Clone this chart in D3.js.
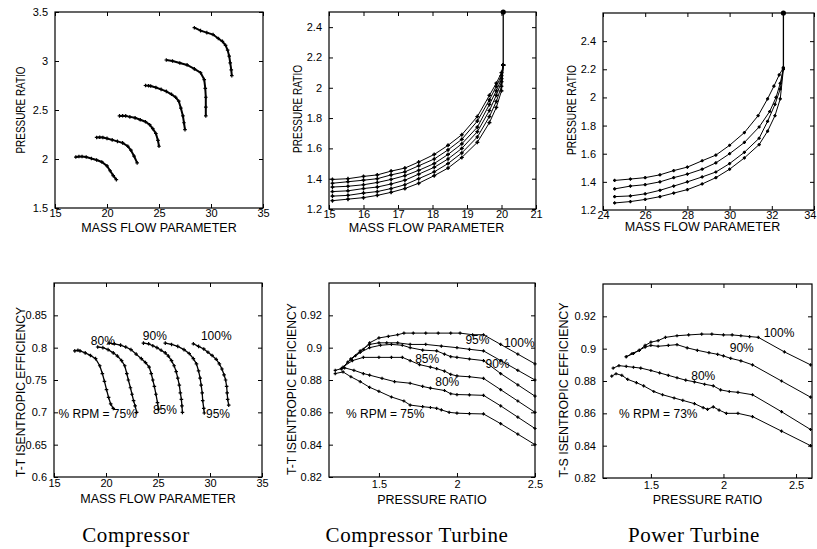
<!DOCTYPE html>
<html><head><meta charset="utf-8">
<script src="https://cdn.jsdelivr.net/npm/d3@7"></script>
<style>
body{margin:0;background:#fff}
svg{display:block;font-family:"Liberation Sans",Arial,sans-serif}
text{fill:#000}
</style>
</head><body>
<svg id="c" width="817" height="549"></svg>
<script>
// ---------------- DATA ----------------
// Compressor map: [mass flow parameter, pressure ratio]
const compMap75  = [[17.0,2.02],[17.3,2.025],[17.6,2.025],[18.0,2.02],[18.5,2.005],[19.0,1.99],[19.5,1.97],[20.0,1.93],[20.3,1.88],[20.6,1.83],[20.9,1.79]];
const compMap80  = [[19.0,2.22],[19.3,2.222],[19.6,2.22],[20.0,2.21],[20.5,2.195],[21.0,2.18],[21.5,2.165],[22.0,2.13],[22.3,2.09],[22.6,2.03],[22.9,1.96]];
const compMap85  = [[21.2,2.44],[21.5,2.442],[21.8,2.44],[22.2,2.43],[22.7,2.42],[23.2,2.40],[23.7,2.38],[24.1,2.35],[24.4,2.31],[24.7,2.26],[24.9,2.19],[25.0,2.13]];
const compMap90  = [[23.7,2.75],[24.0,2.748],[24.2,2.745],[24.7,2.73],[25.2,2.71],[25.7,2.69],[26.2,2.66],[26.6,2.63],[26.9,2.59],[27.1,2.52],[27.3,2.44],[27.4,2.37],[27.5,2.30]];
const compMap95  = [[25.7,3.01],[26.3,3.0],[27.0,2.98],[27.7,2.96],[28.4,2.92],[29.0,2.88],[29.35,2.81],[29.45,2.72],[29.5,2.63],[29.5,2.53],[29.5,2.44]];
const compMap100 = [[28.4,3.34],[29.0,3.31],[29.6,3.29],[30.2,3.27],[30.7,3.23],[31.1,3.20],[31.4,3.16],[31.6,3.11],[31.75,3.05],[31.85,2.98],[31.95,2.91],[32.0,2.85]];

// Compressor turbine map: shared mass flow, pressure ratio per speed line
const ctMassFlow = [15.1,15.55,16.0,16.4,16.8,17.2,17.6,18.05,18.45,18.85,19.3,19.65,19.85,20.0,20.05];
const ctPR1 = [1.395,1.40,1.415,1.425,1.45,1.47,1.51,1.56,1.62,1.69,1.81,1.95,2.03,2.10,2.15];
const ctPR2 = [1.37,1.38,1.39,1.40,1.425,1.445,1.485,1.53,1.59,1.66,1.78,1.92,2.01,2.08,2.15];
const ctPR3 = [1.345,1.35,1.36,1.375,1.395,1.42,1.455,1.50,1.56,1.63,1.74,1.89,1.98,2.06,2.15];
const ctPR4 = [1.315,1.32,1.335,1.345,1.365,1.39,1.43,1.475,1.53,1.60,1.71,1.85,1.95,2.04,2.15];
const ctPR5 = [1.285,1.29,1.305,1.315,1.335,1.36,1.40,1.445,1.50,1.57,1.675,1.81,1.91,2.01,2.15];
const ctPR6 = [1.255,1.265,1.275,1.29,1.31,1.335,1.37,1.42,1.47,1.54,1.64,1.77,1.87,1.98,2.15];
const ctChoke = [[20.05,2.15],[20.05,2.5]];

// Power turbine map
const ptMap1 = [[24.55,1.41],[25.3,1.42],[26.0,1.43],[26.7,1.45],[27.35,1.48],[28.0,1.505],[28.7,1.55],[29.35,1.59],[30.0,1.66],[30.7,1.75],[31.35,1.87],[31.8,1.99],[32.1,2.08],[32.35,2.16],[32.55,2.21]];
const ptMap2 = [[24.55,1.35],[25.3,1.37],[26.0,1.38],[26.7,1.40],[27.35,1.43],[28.0,1.455],[28.7,1.49],[29.35,1.535],[30.0,1.60],[30.7,1.68],[31.4,1.79],[31.9,1.90],[32.2,2.0],[32.4,2.1],[32.55,2.21]];
const ptMap3 = [[24.55,1.295],[25.3,1.30],[26.0,1.315],[26.7,1.34],[27.35,1.37],[28.0,1.40],[28.7,1.435],[29.35,1.47],[30.0,1.53],[30.7,1.61],[31.4,1.71],[31.8,1.83],[32.15,1.95],[32.4,2.06],[32.55,2.21]];
const ptMap4 = [[24.55,1.25],[25.3,1.26],[26.0,1.275],[26.7,1.295],[27.35,1.32],[28.0,1.345],[28.7,1.385],[29.35,1.43],[30.0,1.49],[30.7,1.57],[31.4,1.665],[31.8,1.76],[32.15,1.87],[32.4,1.99],[32.55,2.2]];
const ptChoke = [[32.55,2.21],[32.55,2.6]];

// Compressor efficiency: [mass flow parameter, T-T efficiency]
const compEff75  = [[17.0,0.795],[17.3,0.796],[17.5,0.795],[18.0,0.792],[18.5,0.788],[19.0,0.783],[19.4,0.772],[19.65,0.76],[19.85,0.748],[20.05,0.735],[20.25,0.723],[20.45,0.713],[20.7,0.706]];
const compEff80  = [[19.2,0.801],[19.7,0.80],[20.2,0.797],[20.7,0.792],[21.1,0.787],[21.5,0.78],[21.8,0.772],[22.0,0.76],[22.15,0.75],[22.35,0.738],[22.5,0.728],[22.65,0.718],[22.8,0.71],[22.95,0.70]];
const compEff85  = [[20.3,0.807],[20.8,0.806],[21.4,0.804],[21.9,0.801],[22.4,0.797],[22.9,0.79],[23.4,0.783],[23.8,0.777],[24.15,0.77],[24.35,0.76],[24.5,0.75],[24.65,0.74],[24.8,0.728],[24.95,0.715],[25.05,0.705]];
const compEff90  = [[23.6,0.807],[24.1,0.806],[24.5,0.803],[24.9,0.80],[25.3,0.796],[25.7,0.792],[26.0,0.787],[26.3,0.78],[26.55,0.772],[26.75,0.763],[26.9,0.753],[27.05,0.742],[27.15,0.73],[27.25,0.72],[27.3,0.71],[27.35,0.70]];
const compEff95  = [[25.7,0.807],[26.3,0.805],[26.9,0.802],[27.5,0.797],[28.0,0.791],[28.4,0.783],[28.7,0.775],[28.9,0.764],[29.05,0.753],[29.15,0.742],[29.25,0.73],[29.3,0.718],[29.4,0.706],[29.45,0.699]];
const compEff100 = [[28.4,0.806],[28.9,0.802],[29.4,0.798],[29.8,0.793],[30.2,0.788],[30.6,0.782],[30.9,0.775],[31.15,0.767],[31.35,0.758],[31.5,0.75],[31.6,0.74],[31.65,0.73],[31.7,0.72],[31.8,0.711]];

// Compressor turbine efficiency: [pressure ratio, T-T efficiency]
const ctEff100 = [[1.26,0.887],[1.30,0.891],[1.35,0.895],[1.40,0.899],[1.44,0.903],[1.50,0.906],[1.56,0.907],[1.62,0.908],[1.66,0.909],[1.72,0.909],[1.80,0.909],[1.88,0.909],[1.96,0.909],[2.02,0.909],[2.10,0.908],[2.17,0.908],[2.28,0.902],[2.39,0.896],[2.5,0.89]];
const ctEff95  = [[1.26,0.887],[1.32,0.893],[1.38,0.898],[1.44,0.902],[1.50,0.903],[1.55,0.903],[1.62,0.903],[1.70,0.902],[1.80,0.902],[1.90,0.901],[2.0,0.90],[2.08,0.899],[2.17,0.898],[2.28,0.892],[2.39,0.886],[2.5,0.88]];
const ctEff90  = [[1.26,0.887],[1.32,0.893],[1.38,0.897],[1.44,0.9],[1.51,0.9015],[1.58,0.902],[1.65,0.9015],[1.70,0.9],[1.78,0.8985],[1.87,0.898],[1.92,0.896],[1.96,0.8945],[2.0,0.894],[2.08,0.893],[2.17,0.892],[2.28,0.884],[2.39,0.877],[2.5,0.87]];
const ctEff85  = [[1.27,0.888],[1.33,0.892],[1.40,0.894],[1.50,0.894],[1.58,0.894],[1.65,0.894],[1.70,0.892],[1.76,0.8895],[1.83,0.888],[1.87,0.887],[1.92,0.8855],[1.96,0.8835],[2.0,0.8825],[2.08,0.882],[2.17,0.881],[2.28,0.874],[2.39,0.867],[2.5,0.86]];
const ctEff80  = [[1.22,0.886],[1.28,0.8875],[1.34,0.886],[1.40,0.884],[1.44,0.883],[1.52,0.881],[1.60,0.879],[1.70,0.878],[1.78,0.876],[1.83,0.875],[1.92,0.8735],[1.96,0.8715],[2.0,0.871],[2.08,0.8708],[2.17,0.8705],[2.28,0.864],[2.39,0.857],[2.5,0.85]];
const ctEff75  = [[1.22,0.884],[1.27,0.885],[1.32,0.882],[1.38,0.879],[1.44,0.8755],[1.50,0.873],[1.58,0.8695],[1.66,0.867],[1.70,0.8645],[1.78,0.8635],[1.83,0.863],[1.87,0.8625],[1.90,0.8615],[1.95,0.86],[2.0,0.8595],[2.08,0.8592],[2.17,0.859],[2.28,0.853],[2.39,0.8465],[2.5,0.84]];

// Power turbine efficiency: [pressure ratio, T-S efficiency]
const ptEff100 = [[1.33,0.895],[1.37,0.897],[1.42,0.899],[1.46,0.902],[1.50,0.904],[1.55,0.905],[1.60,0.907],[1.68,0.908],[1.76,0.9085],[1.85,0.909],[1.92,0.909],[2.0,0.9085],[2.06,0.9085],[2.12,0.908],[2.18,0.9075],[2.24,0.907],[2.42,0.898],[2.6,0.89]];
const ptEff90  = [[1.33,0.895],[1.38,0.897],[1.42,0.899],[1.46,0.901],[1.50,0.902],[1.55,0.9015],[1.62,0.902],[1.68,0.9025],[1.75,0.9005],[1.82,0.899],[1.90,0.8975],[1.96,0.8965],[2.0,0.8955],[2.05,0.894],[2.12,0.8925],[2.2,0.89],[2.4,0.88],[2.6,0.87]];
const ptEff80  = [[1.24,0.888],[1.28,0.8895],[1.33,0.889],[1.38,0.8885],[1.43,0.888],[1.50,0.8865],[1.56,0.885],[1.62,0.8835],[1.68,0.882],[1.74,0.8805],[1.80,0.8795],[1.87,0.878],[1.93,0.877],[1.98,0.8745],[2.04,0.8735],[2.1,0.873],[2.2,0.8715],[2.4,0.861],[2.6,0.85]];
const ptEff73  = [[1.23,0.883],[1.26,0.8845],[1.30,0.8835],[1.34,0.881],[1.40,0.879],[1.45,0.877],[1.52,0.8735],[1.58,0.8715],[1.66,0.8695],[1.72,0.868],[1.80,0.866],[1.86,0.8635],[1.89,0.8625],[1.93,0.864],[1.97,0.862],[2.02,0.86],[2.1,0.86],[2.2,0.858],[2.4,0.849],[2.6,0.84]];

// Tick values
const ticksMassFlowComp = [15,20,25,30,35];
const ticksPRComp = [1.5,2,2.5,3,3.5];
const ticksMassFlowCT = [15,16,17,18,19,20,21];
const ticksPRCT = [1.2,1.4,1.6,1.8,2,2.2,2.4];
const ticksMassFlowPT = [24,26,28,30,32,34];
const ticksPRPT = [1.2,1.4,1.6,1.8,2,2.2,2.4];
const ticksEffComp = [0.6,0.65,0.7,0.75,0.8,0.85];
const ticksPRTurb = [1.5,2,2.5];
const ticksEffTurb = [0.82,0.84,0.86,0.88,0.9,0.92];

// Speed-line annotations [text, x, y]
const compEffNotes = [["80%",19.7,0.811],["90%",24.7,0.818],["100%",30.6,0.818],["% RPM = 75%",19.2,0.6975],["85%",25.67,0.7036],["95%",30.77,0.6974]];
const ctEffNotes = [["95%",2.131,0.9047],["100%",2.399,0.9031],["85%",1.809,0.8934],["90%",2.26,0.8903],["80%",1.938,0.879],["% RPM = 75%",1.54,0.859]];
const ptEffNotes = [["100%",2.383,0.9097],["90%",2.126,0.9008],["80%",1.861,0.8831],["% RPM = 73%",1.551,0.8596]];

const captions = ["Compressor","Compressor Turbine","Power Turbine"];

// ---------------- DRAW ----------------
const svg = d3.select("#c");
const zip = (xs, ys) => xs.map((v,i)=>[v, ys[i]]);
const W = 817;

function crossPath(s){ return `M${-s},0H${s}M0,${-s}V${s}`; }

function drawPanel(p){
  const x = d3.scaleLinear().domain(p.xDomain).range([p.left, p.left + p.w]);
  const y = d3.scaleLinear().domain(p.yDomain).range([p.top + p.h, p.top]);
  const g = svg.append("g");
  const fmt = d => String(d);

  const styleAxis = sel => {
    sel.attr("font-family",null).attr("font-size",null);
    sel.select(".domain").remove();
    sel.selectAll(".tick line").attr("stroke","#000").attr("stroke-width",1);
    sel.selectAll("text").style("font-size","11px").attr("fill","#000");
  };
  const bx = g.append("g").attr("transform",`translate(0,${p.top+p.h})`)
    .call(d3.axisBottom(x).tickValues(p.xTicks).tickFormat(fmt).tickSizeInner(-4).tickSizeOuter(0).tickPadding(p.xPad)).call(styleAxis);
  // keep edge tick labels inside the page
  bx.selectAll(".tick").each(function(d){
    const px = x(d);
    if (px + 7 > W) d3.select(this).select("text").attr("text-anchor","end").attr("dx", (W - px - 1) + "px");
  });
  g.append("g").attr("transform",`translate(0,${p.top})`)
    .call(d3.axisTop(x).tickValues(p.xTicks).tickFormat(()=>"").tickSizeInner(-4).tickSizeOuter(0)).call(styleAxis);
  g.append("g").attr("transform",`translate(${p.left},0)`)
    .call(d3.axisLeft(y).tickValues(p.yTicks).tickFormat(fmt).tickSizeInner(-4).tickSizeOuter(0).tickPadding(7)).call(styleAxis);
  g.append("g").attr("transform",`translate(${p.left+p.w},0)`)
    .call(d3.axisRight(y).tickValues(p.yTicks).tickFormat(()=>"").tickSizeInner(-4).tickSizeOuter(0)).call(styleAxis);

  g.append("rect").attr("x",p.left).attr("y",p.top).attr("width",p.w).attr("height",p.h)
    .attr("fill","none").attr("stroke","#000").attr("stroke-width",1.2);

  const line = d3.line().x(d=>x(d[0])).y(d=>y(d[1]));
  p.series.forEach(s => {
    g.append("path").attr("d", line(s)).attr("fill","none").attr("stroke","#000").attr("stroke-width",p.lw||1);
    g.selectAll(null).data(s).join("path")
      .attr("transform", d=>`translate(${x(d[0])},${y(d[1])})`)
      .attr("d", crossPath(p.ms||2)).attr("stroke","#000").attr("stroke-width",1.2).attr("fill","none");
    if (p.dots) g.selectAll(null).data(s).join("circle")
      .attr("cx",d=>x(d[0])).attr("cy",d=>y(d[1])).attr("r",1.3).attr("fill","#000");
  });
  if (p.choke){
    g.append("path").attr("d", line(p.choke)).attr("fill","none").attr("stroke","#000").attr("stroke-width",1.3);
    const top = p.choke[p.choke.length-1];
    g.append("circle").attr("cx",x(top[0])).attr("cy",y(top[1])).attr("r",2.6).attr("fill","#000");
  }
  (p.notes||[]).forEach(n => {
    g.append("text").attr("x",x(n[1])).attr("y",y(n[2])).attr("dy","0.35em")
      .attr("text-anchor","middle").style("font-size","12px").text(n[0]);
  });
  // axis titles
  g.append("text").attr("x",p.left + p.w/2 + (p.xlOff||0)).attr("y",p.top+p.h+p.xlDist).attr("dy","0.35em")
    .attr("text-anchor","middle").style("font-size","12.5px").text(p.xLabel);
  g.append("text").attr("transform",`translate(${p.ylX},${p.ylY}) rotate(-90)`)
    .attr("text-anchor","middle").attr("dy","0.35em").style("font-size","12px")
    .attr("textLength",p.ylLen).attr("lengthAdjust","spacingAndGlyphs").text(p.yLabel);
}

drawPanel({left:55,top:12,w:208,h:196,xDomain:[15,35],yDomain:[1.5,3.5],xTicks:ticksMassFlowComp,yTicks:ticksPRComp,
  xPad:1,xlDist:20,
  xLabel:"MASS FLOW PARAMETER",yLabel:"PRESSURE RATIO",ylX:21,ylY:110,ylLen:87,lw:2,ms:1.8,
  series:[compMap75,compMap80,compMap85,compMap90,compMap95,compMap100]});
drawPanel({left:329,top:12,w:207,h:197,xDomain:[15,21],yDomain:[1.2,2.5],xTicks:ticksMassFlowCT,yTicks:ticksPRCT,
  xPad:1,xlDist:19,
  xLabel:"MASS FLOW PARAMETER",yLabel:"PRESSURE RATIO",ylX:298,ylY:109,ylLen:88,xlOff:-6,ms:2,dots:true,
  series:[ctPR1,ctPR2,ctPR3,ctPR4,ctPR5,ctPR6].map(ys=>zip(ctMassFlow,ys)),choke:ctChoke});
drawPanel({left:603,top:13,w:211,h:197,xDomain:[24,34],yDomain:[1.2,2.6],xTicks:ticksMassFlowPT,yTicks:ticksPRPT,
  xPad:1,xlDist:17,
  xLabel:"MASS FLOW PARAMETER",yLabel:"PRESSURE RATIO",ylX:572,ylY:110,ylLen:90,xlOff:-6,ms:1.6,dots:true,
  series:[ptMap1,ptMap2,ptMap3,ptMap4],choke:ptChoke});
drawPanel({left:54,top:283,w:208,h:194,xDomain:[15,35],yDomain:[0.6,0.9],xTicks:ticksMassFlowComp,yTicks:ticksEffComp,
  xPad:2,xlDist:22,
  xLabel:"MASS FLOW PARAMETER",yLabel:"T-T ISENTROPIC EFFICIENCY",ylX:21,ylY:392,ylLen:170,lw:1.3,ms:1.8,
  series:[compEff75,compEff80,compEff85,compEff90,compEff95,compEff100],notes:compEffNotes});
drawPanel({left:329,top:283,w:206,h:194,xDomain:[1.18,2.5],yDomain:[0.82,0.94],xTicks:ticksPRTurb,yTicks:ticksEffTurb,
  xPad:3,xlDist:23,
  xLabel:"PRESSURE RATIO",yLabel:"T-T ISENTROPIC EFFICIENCY",ylX:292,ylY:389,ylLen:172,ms:1.6,
  series:[ctEff100,ctEff95,ctEff90,ctEff85,ctEff80,ctEff75],notes:ctEffNotes});
drawPanel({left:603,top:284,w:209,h:194,xDomain:[1.17,2.61],yDomain:[0.82,0.94],xTicks:ticksPRTurb,yTicks:ticksEffTurb,
  xPad:3,xlDist:22,
  xLabel:"PRESSURE RATIO",yLabel:"T-S ISENTROPIC EFFICIENCY",ylX:564,ylY:390,ylLen:175,ms:1.6,
  series:[ptEff100,ptEff90,ptEff80,ptEff73],notes:ptEffNotes});

// captions
const capX = [136, 417, 694];
svg.selectAll(".cap").data(captions).join("text").attr("class","cap")
  .attr("x",(d,i)=>capX[i]).attr("y",542).attr("text-anchor","middle")
  .style("font-family","'Liberation Serif','Times New Roman',serif").style("font-size","21px")
  .style("letter-spacing","0.6px").text(d=>d);
</script>
</body></html>
